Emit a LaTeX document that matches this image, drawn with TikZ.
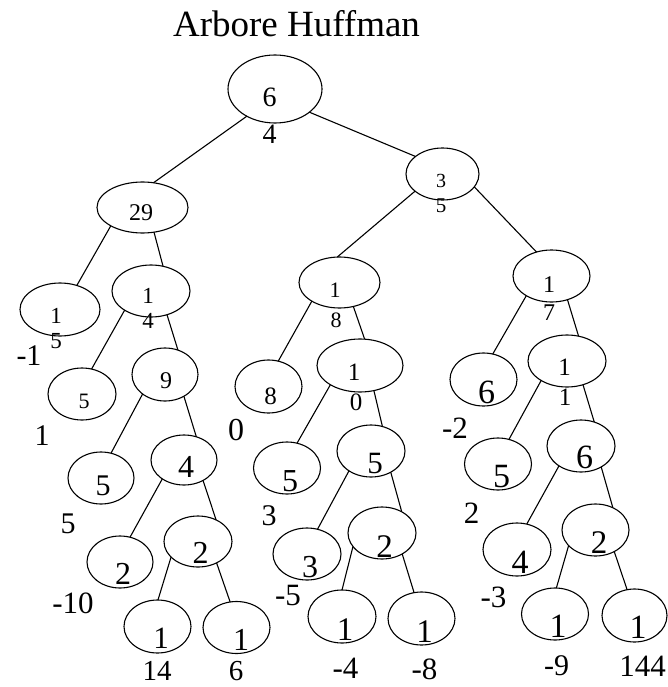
\documentclass[tikz,border=0pt]{standalone}
\usepackage{fontspec}
\setmainfont{Liberation Serif}
\usetikzlibrary{shapes.geometric}
\tikzset{
  el/.style n args={2}{ellipse, draw, line width=1.1pt, inner sep=0pt, outer sep=0pt,
     minimum width=#1pt, minimum height=#2pt},
  txt/.style={inner sep=0pt, anchor=base, font=\fontsize{#1}{#1}\selectfont},
  edge/.style={line width=1.1pt}
}
\begin{document}
\begin{tikzpicture}[x=1pt,y=-1pt]
\useasboundingbox (0,0) rectangle (667,687);
% title
\node[txt=37] (title) at (296.5,37) {Arbore Huffman};
% ellipses
\node[el={94}{68}] (root) at (275,89) {};
\node[el={91}{51}] (n29) at (142.5,207.5) {};
\node[el={73}{52}] (n35) at (442.5,174) {};
\node[el={81}{51}] (n18) at (339.5,282.5) {};
\node[el={77}{52}] (n17) at (551.5,276) {};
\node[el={80}{53}] (n15) at (60,309.5) {};
\node[el={78}{52}] (n14) at (151,291) {};
\node[el={68}{52}] (l5a) at (82,394) {};
\node[el={66}{53}] (n9) at (165,374.5) {};
\node[el={66}{52}] (l5b) at (101,478) {};
\node[el={66}{50}] (n4) at (184,460) {};
\node[el={66}{52}] (l2a) at (120,562) {};
\node[el={68}{51}] (n2a) at (198,541.5) {};
\node[el={67}{53}] (l1a) at (157.5,626.5) {};
\node[el={67}{52}] (l1b) at (236.5,627.5) {};
\node[el={67}{53}] (l8) at (268.5,386.5) {};
\node[el={86}{53}] (n10) at (360,365.5) {};
\node[el={67}{52}] (l5c) at (287,468) {};
\node[el={68}{52}] (n5) at (371,451) {};
\node[el={68}{52}] (l3) at (307,554) {};
\node[el={68}{52}] (n2b) at (382,533) {};
\node[el={68}{53}] (l1c) at (342,616.5) {};
\node[el={67}{53}] (l1d) at (421.5,618.5) {};
\node[el={67}{53}] (l6) at (483.5,379.5) {};
\node[el={78}{52}] (n11) at (567,361) {};
\node[el={67}{52}] (l5d) at (498,464) {};
\node[el={68}{52}] (n6) at (581,446) {};
\node[el={68}{53}] (l4) at (517,549.5) {};
\node[el={67}{52}] (n2c) at (595.5,530) {};
\node[el={67}{52}] (l1e) at (555,614) {};
\node[el={65}{53}] (l1f) at (634.5,615.5) {};
% edges
\draw[edge] (root.224) -- (n29.66.8);
\draw[edge] (root.-34.6) -- (n35.147.2);
\draw[edge] (n29.210.7) -- (n15.55.2);
\draw[edge] (n29.-65) -- (n14.64.4);
\draw[edge] (n14.216.5) -- (l5a.69);
\draw[edge] (n14.-56.3) -- (n9.62);
\draw[edge] (n9.221.7) -- (l5b.68.5);
\draw[edge] (n9.-49.6) -- (n4.62.5);
\draw[edge] (n4.221) -- (l2a.68.2);
\draw[edge] (n4.-47.7) -- (n2a.50);
\draw[edge] (n2a.210.5) -- (l1a.89);
\draw[edge] (n2a.-49.6) -- (l1b.104.3);
\draw[edge] (n35.212.3) -- (n18.95.6);
\draw[edge] (n35.-22.8) -- (n17.122.9);
\draw[edge] (n18.214.8) -- (l8.69.6);
\draw[edge] (n18.-60.1) -- (n10.80);
\draw[edge] (n10.213.9) -- (l5c.68.2);
\draw[edge] (n10.-61.9) -- (n5.65.2);
\draw[edge] (n5.222.4) -- (l3.67);
\draw[edge] (n5.-47.7) -- (n2b.47.6);
\draw[edge] (n2b.205.8) -- (l1c.90);
\draw[edge] (n2b.-46.3) -- (l1d.106.4);
\draw[edge] (n17.218.4) -- (l6.70.3);
\draw[edge] (n17.-56.6) -- (n11.65.4);
\draw[edge] (n11.217.9) -- (l5d.66.3);
\draw[edge] (n11.-56.3) -- (n6.61.6);
\draw[edge] (n6.222.4) -- (l4.69.3);
\draw[edge] (n6.-46.3) -- (n2c.52.7);
\draw[edge] (n2c.210.8) -- (l1e.87.9);
\draw[edge] (n2c.-49.7) -- (l1f.106.4);
% texts inside / near nodes
\node[txt=28] (t1) at (269.5,107) {6};
\node[txt=28] (t2) at (269.5,144) {4};
\node[txt=24] (t3) at (141,220) {29};
\node[txt=20] (t4) at (441,187) {3};
\node[txt=21] (t5) at (441,212) {5};
\node[txt=22] (t6) at (335,297) {1};
\node[txt=22] (t7) at (336,327) {8};
\node[txt=24] (t8) at (549,292) {1};
\node[txt=24] (t9) at (549,320) {7};
\node[txt=23] (t10) at (56,323) {1};
\node[txt=23] (t11) at (56,348) {5};
\node[txt=30] (t12) at (29,365) {-1};
\node[txt=23] (t13) at (148,303) {1};
\node[txt=23] (t14) at (148,328) {4};
\node[txt=22] (t15) at (84,408) {5};
\node[txt=30] (t16) at (42,445) {1};
\node[txt=24] (t17) at (166,388) {9};
\node[txt=30] (t18) at (103,495) {5};
\node[txt=30] (t19) at (68,533) {5};
\node[txt=32] (t20) at (186,477) {4};
\node[txt=32] (t21) at (123,584) {2};
\node[txt=31] (t22) at (73,613) {-10};
\node[txt=32] (t23) at (200.5,563) {2};
\node[txt=31] (t24) at (161,648) {1};
\node[txt=29] (t25) at (157,680) {14};
\node[txt=32] (t26) at (241,650) {1};
\node[txt=29] (t27) at (236,680) {6};
\node[txt=32] (t28) at (236,440) {0};
\node[txt=25] (t29) at (270.5,404) {8};
\node[txt=25] (t30) at (354,380) {1};
\node[txt=25] (t31) at (356,410) {0};
\node[txt=32] (t32) at (290,491) {5};
\node[txt=31] (t33) at (375,473) {5};
\node[txt=30] (t34) at (269,525) {3};
\node[txt=32] (t35) at (310,577) {3};
\node[txt=31] (t36) at (288,605) {-5};
\node[txt=33] (t37) at (384.5,557) {2};
\node[txt=33] (t38) at (345,640) {1};
\node[txt=31] (t39) at (345.5,678) {-4};
\node[txt=33] (t40) at (424.5,642) {1};
\node[txt=31] (t41) at (424.5,679) {-8};
\node[txt=34] (t42) at (486.5,403) {6};
\node[txt=31] (t43) at (455,438) {-2};
\node[txt=25] (t44) at (564.5,375) {1};
\node[txt=25] (t45) at (565,405) {1};
\node[txt=34] (t46) at (501.5,487) {5};
\node[txt=34] (t47) at (584.5,468) {6};
\node[txt=31] (t48) at (471.5,523) {2};
\node[txt=34] (t49) at (520,573) {4};
\node[txt=31] (t50) at (493.5,607) {-3};
\node[txt=33] (t51) at (599,553) {2};
\node[txt=34] (t52) at (558,637) {1};
\node[txt=30] (t53) at (556.5,675) {-9};
\node[txt=34] (t54) at (638,638) {1};
\node[txt=31] (t55) at (642.5,676) {144};
\end{tikzpicture}
\end{document}
